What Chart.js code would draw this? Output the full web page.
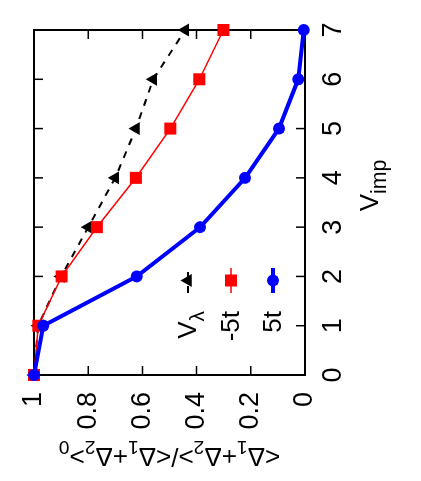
<!DOCTYPE html>
<html><head><meta charset="utf-8">
<script src="https://cdn.jsdelivr.net/npm/chart.js@4"></script>
<style>
html,body{margin:0;padding:0;background:#fff;overflow:hidden;width:421px;height:481px;}
#wrap{position:absolute;left:0;top:0;width:481px;height:421px;transform-origin:0 0;transform:translate(0,481px) rotate(-90deg);}
</style></head>
<body><div id="wrap"><canvas id="c" width="481" height="421"></canvas></div>
<script>
// ---- data ----
const vimp = [0, 1, 2, 3, 4, 5, 6, 7];
const vLambda = [1.0, 0.985, 0.90, 0.80, 0.70, 0.624, 0.56, 0.442];
const minus5t = [1.0, 0.984, 0.898, 0.768, 0.624, 0.497, 0.39, 0.301];
const plus5t = [1.0, 0.966, 0.621, 0.387, 0.221, 0.096, 0.025, 0.005];
const xTicks = [0, 1, 2, 3, 4, 5, 6, 7];
const xTickLabels = ['0', '1', '2', '3', '4', '5', '6', '7'];
const yTicks = [0, 0.2, 0.4, 0.6, 0.8, 1];
const yTickLabels = ['0', '0.2', '0.4', '0.6', '0.8', '1'];
const seriesLabels = ['V_{λ}', '-5t', '5t'];
const xTitle = 'V_{imp}';
const yTitle = '<Δ_1+Δ_2>/<Δ_1+Δ_2>_0';

// ---- helpers ----
const F = '"Liberation Sans", Arial, sans-serif';
function parseRich(s){
  const parts=[]; let i=0, buf='';
  while(i<s.length){
    if(s[i]==='_'){
      if(buf){parts.push({t:buf,sub:false});buf='';}
      i++; let sub='';
      if(s[i]==='{'){ i++; while(i<s.length && s[i]!=='}') sub+=s[i++]; i++; }
      else sub=s[i++];
      parts.push({t:sub,sub:true});
    } else buf+=s[i++];
  }
  if(buf) parts.push({t:buf,sub:false});
  return parts;
}
function drawRich(ctx, s, x, y, size, align, subScale, subDrop){
  subScale = subScale||0.72; subDrop = subDrop||0.28;
  const parts = parseRich(s);
  let w=0;
  for(const p of parts){ ctx.font=(p.sub?size*subScale:size)+'px '+F; w+=ctx.measureText(p.t).width; }
  let cx = align==='right' ? x-w : (align==='center' ? x-w/2 : x);
  ctx.textAlign='left'; ctx.textBaseline='alphabetic';
  for(const p of parts){
    const fs = p.sub?size*subScale:size;
    ctx.font = fs+'px '+F;
    ctx.fillText(p.t, cx, y + (p.sub?size*subDrop:0));
    cx += ctx.measureText(p.t).width;
  }
}

const framePlugin = {
  id:'frame',
  beforeDatasetsDraw(chart){
    const {ctx, chartArea:a} = chart; const x=chart.scales.x, y=chart.scales.y;
    ctx.save();
    ctx.strokeStyle='#000'; ctx.lineWidth=2;
    ctx.strokeRect(a.left, a.top, a.right-a.left, a.bottom-a.top);
    ctx.lineWidth=1.5; const L=9;
    ctx.beginPath();
    for(const v of xTicks){
      const px=x.getPixelForValue(v);
      ctx.moveTo(px,a.bottom); ctx.lineTo(px,a.bottom-L);
      ctx.moveTo(px,a.top); ctx.lineTo(px,a.top+L);
    }
    for(const v of yTicks){
      const py=y.getPixelForValue(v);
      ctx.moveTo(a.left,py); ctx.lineTo(a.left+L,py);
      ctx.moveTo(a.right,py); ctx.lineTo(a.right-L,py);
    }
    ctx.stroke();
    ctx.restore();
  },
  afterDraw(chart){
    const {ctx, chartArea:a} = chart;
    ctx.save(); ctx.fillStyle='#000';
    // x title
    drawRich(ctx, xTitle, (a.left+a.right)/2+17, a.bottom+73, 26, 'center', 0.82, 0.3);
    // y title
    ctx.save();
    ctx.translate(33, (a.top+a.bottom)/2);
    ctx.rotate(-Math.PI/2);
    drawRich(ctx, yTitle, 0, 0, 26, 'center', 0.74, 0.28);
    ctx.restore();
    // legend
    const rows=[a.top+154, a.top+197, a.top+239];
    const order=[2,1,0];
    const ds = chart.data.datasets;
    rows.forEach((ry,k)=>{
      const d = ds[order[k]];
      ctx.fillStyle='#000';
      drawRich(ctx, seriesLabels[k], a.left+64, ry+8, 26, 'right', 0.8, 0.3);
      const x0=a.left+82, x1=a.left+107;
      ctx.save();
      ctx.strokeStyle=d.borderColor; ctx.lineWidth=d.borderWidth;
      ctx.setLineDash(d.borderDash||[]);
      ctx.beginPath(); ctx.moveTo(x0,ry); ctx.lineTo(x1,ry); ctx.stroke();
      ctx.setLineDash([]);
      ctx.fillStyle=d.backgroundColor;
      Chart.helpers.drawPoint(ctx,{pointStyle:d.pointStyle,radius:d.pointRadius,rotation:0,borderWidth:0},(x0+x1)/2,ry);
      ctx.restore();
    });
    ctx.restore();
  }
};

function pts(ys){ return vimp.map((v,i)=>({x:v,y:ys[i]})); }

new Chart(document.getElementById('c'), {
  type:'line',
  data:{ datasets:[
    {label:seriesLabels[2], data:pts(plus5t), borderColor:'#0000ff', backgroundColor:'#0000ff', borderWidth:4, pointStyle:'circle', pointRadius:6, pointBorderWidth:0, order:0, clip:false, tension:0},
    {label:seriesLabels[1], data:pts(minus5t), borderColor:'#ff0000', backgroundColor:'#ff0000', borderWidth:1.5, pointStyle:'rect', pointRadius:8.5, pointBorderWidth:0, order:1, clip:false, tension:0},
    {label:seriesLabels[0], data:pts(vLambda), borderColor:'#000000', backgroundColor:'#000000', borderWidth:2, borderDash:[7,7], pointStyle:'triangle', pointRadius:7.5, pointBorderWidth:0, order:2, clip:false, tension:0}
  ]},
  options:{
    responsive:false, animation:false,
    layout:{padding:{top:34,right:30,left:0,bottom:0}},
    plugins:{legend:{display:false}, tooltip:{enabled:false}},
    scales:{
      x:{type:'linear', min:0, max:7,
         afterBuildTicks(s){ s.ticks = xTicks.map(v=>({value:v})); },
         grid:{display:false, drawTicks:false}, border:{display:false},
         ticks:{font:{family:F,size:27}, color:'#000', padding:12, maxRotation:0, callback:(v,i)=>xTickLabels[i]},
         afterFit(s){ s.height=116; }},
      y:{type:'linear', min:0, max:1,
         afterBuildTicks(s){ s.ticks = yTicks.map(v=>({value:v})); },
         grid:{display:false, drawTicks:false}, border:{display:false},
         ticks:{font:{family:F,size:27}, color:'#000', padding:17, callback:(v,i)=>yTickLabels[i]},
         afterFit(s){ s.width=106; }}
    }
  },
  plugins:[framePlugin]
});
</script>
</body></html>
